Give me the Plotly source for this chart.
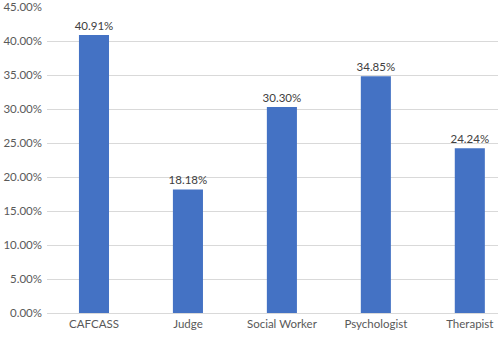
import plotly.graph_objects as go

categories = ["CAFCASS", "Judge", "Social Worker", "Psychologist", "Therapist"]
values = [40.91, 18.18, 30.30, 34.85, 24.24]
tick_vals = [0, 5, 10, 15, 20, 25, 30, 35, 40, 45]
tick_text = [f"{v:.2f}%" for v in tick_vals]

fig = go.Figure(go.Bar(
    x=list(range(len(categories))), y=values,
    marker=dict(color="#4472C4", line=dict(width=0)),
    text=[f"{v:.2f}%" for v in values], textposition="outside",
    textfont=dict(color="#404040", size=11.5, family="Lato"),
    constraintext="none", cliponaxis=False,
))
fig.update_layout(
    width=498, height=339, margin=dict(l=47, r=0, t=7, b=26),
    plot_bgcolor="white", paper_bgcolor="white", bargap=0.68,
    font=dict(family="Lato", size=11.5, color="#595959"),
    showlegend=False,
)
fig.update_xaxes(range=[-0.5, 4.3], tickvals=list(range(len(categories))), ticktext=categories,
                 showgrid=False, showline=True, linecolor="#d9d9d9", ticks="", zeroline=False)
fig.update_yaxes(range=[0, 45.02], tickvals=tick_vals, ticktext=tick_text, showgrid=True,
                 gridcolor="#d9d9d9", zeroline=False, ticks="", ticklen=0, ticklabelstandoff=4)
fig.write_html("out.html")
